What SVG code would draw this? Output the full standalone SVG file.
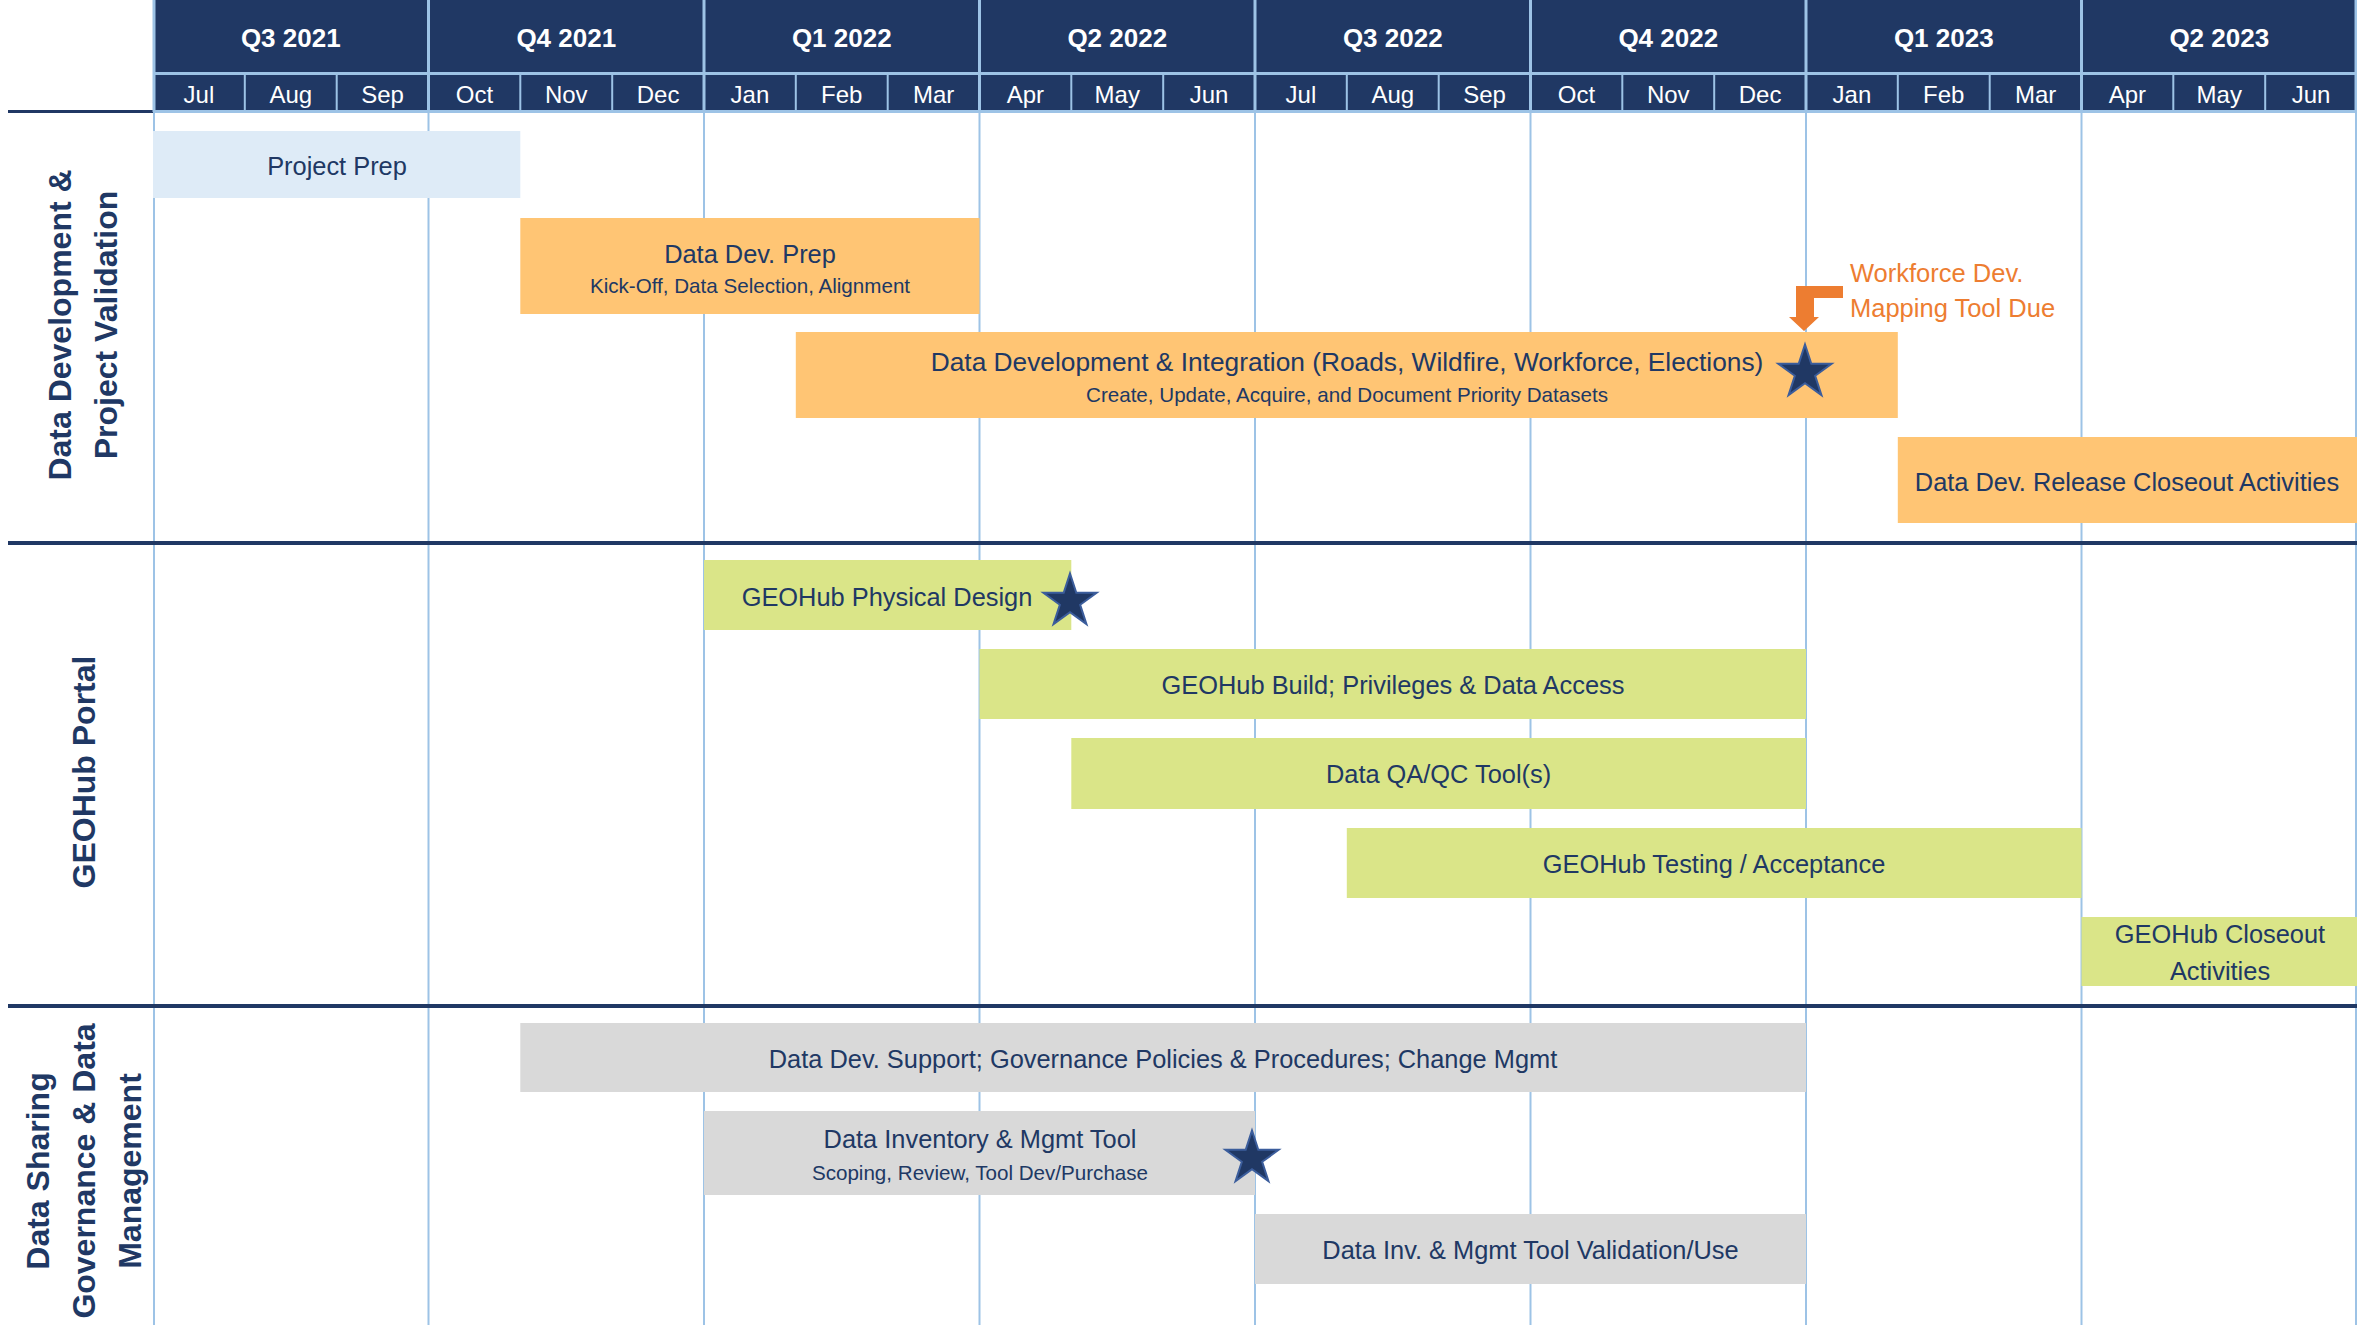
<svg xmlns="http://www.w3.org/2000/svg" xmlns:xlink="http://www.w3.org/1999/xlink" width="2357" height="1325" viewBox="0 0 2357 1325">
<style>
.q{font-family:"Liberation Sans",Arial,sans-serif;font-weight:bold;font-size:26px;fill:#fff;text-anchor:middle}
.m{font-family:"Liberation Sans",Arial,sans-serif;font-size:24px;fill:#fff;text-anchor:middle}
.lbl{font-family:"Liberation Sans",Arial,sans-serif;font-size:25.4px;fill:#203864;text-anchor:middle}
.big{font-size:26.3px}
.sub{font-family:"Liberation Sans",Arial,sans-serif;font-size:20.6px;fill:#203864;text-anchor:middle}
.sec{font-family:"Liberation Sans",Arial,sans-serif;font-weight:bold;font-size:32px;fill:#203864;text-anchor:middle}
.call{font-family:"Liberation Sans",Arial,sans-serif;font-size:25.5px;fill:#ED7D31}
.grid{stroke:#9DC3E6;stroke-width:2;fill:none}
.hsep{stroke:#9DC3E6;stroke-width:3;fill:none}
.msep{stroke:#9DC3E6;stroke-width:2;fill:none}
.secline{stroke:#203864;stroke-width:4;fill:none}
.blue{fill:#DEEBF7}
.orange{fill:#FFC574}
.green{fill:#DAE588}
.gray{fill:#D9D9D9}
.star{fill:#203864;stroke:#3B5D9C;stroke-width:2;stroke-linejoin:miter}
</style>
<defs>
<polygon id="star" points="0,-28 6.29,-8.66 26.63,-8.65 10.18,3.31 16.46,22.65 0,10.7 -16.46,22.65 -10.18,3.31 -26.63,-8.65 -6.29,-8.66"/>
</defs>
<rect x="0" y="0" width="2357" height="1325" fill="#fff"/>

<g id="grid">
<line class="grid" x1="154" y1="112" x2="154" y2="1325"/>
<line class="grid" x1="428.5" y1="112" x2="428.5" y2="1325"/>
<line class="grid" x1="704" y1="112" x2="704" y2="1325"/>
<line class="grid" x1="979.5" y1="112" x2="979.5" y2="1325"/>
<line class="grid" x1="1255" y1="112" x2="1255" y2="1325"/>
<line class="grid" x1="1530.5" y1="112" x2="1530.5" y2="1325"/>
<line class="grid" x1="1806" y1="112" x2="1806" y2="1325"/>
<line class="grid" x1="2081.5" y1="112" x2="2081.5" y2="1325"/>
<line class="grid" x1="2356" y1="112" x2="2356" y2="1325"/>
<line class="secline" x1="8" y1="111.5" x2="153" y2="111.5" style="stroke-width:3"/>
<line class="secline" x1="8" y1="543" x2="2357" y2="543"/>
<line class="secline" x1="8" y1="1006" x2="2357" y2="1006"/>
</g>

<g id="header">
<rect x="153" y="0" width="2204" height="110" fill="#203864"/>
<line class="hsep" x1="153" y1="73.5" x2="2357" y2="73.5"/>
<line class="hsep" x1="153" y1="111.5" x2="2357" y2="111.5"/>
<line class="hsep" x1="154" y1="0" x2="154" y2="112"/>
<line class="hsep" x1="428.5" y1="0" x2="428.5" y2="112"/>
<line class="hsep" x1="704" y1="0" x2="704" y2="112"/>
<line class="hsep" x1="979.5" y1="0" x2="979.5" y2="112"/>
<line class="hsep" x1="1255" y1="0" x2="1255" y2="112"/>
<line class="hsep" x1="1530.5" y1="0" x2="1530.5" y2="112"/>
<line class="hsep" x1="1806" y1="0" x2="1806" y2="112"/>
<line class="hsep" x1="2081.5" y1="0" x2="2081.5" y2="112"/>
<line class="hsep" x1="2356" y1="0" x2="2356" y2="112"/>
<g class="msep">
<line x1="244.8" y1="75" x2="244.8" y2="110"/>
<line x1="336.7" y1="75" x2="336.7" y2="110"/>
<line x1="520.3" y1="75" x2="520.3" y2="110"/>
<line x1="612.2" y1="75" x2="612.2" y2="110"/>
<line x1="795.8" y1="75" x2="795.8" y2="110"/>
<line x1="887.7" y1="75" x2="887.7" y2="110"/>
<line x1="1071.3" y1="75" x2="1071.3" y2="110"/>
<line x1="1163.2" y1="75" x2="1163.2" y2="110"/>
<line x1="1346.8" y1="75" x2="1346.8" y2="110"/>
<line x1="1438.7" y1="75" x2="1438.7" y2="110"/>
<line x1="1622.3" y1="75" x2="1622.3" y2="110"/>
<line x1="1714.2" y1="75" x2="1714.2" y2="110"/>
<line x1="1897.8" y1="75" x2="1897.8" y2="110"/>
<line x1="1989.7" y1="75" x2="1989.7" y2="110"/>
<line x1="2173.3" y1="75" x2="2173.3" y2="110"/>
<line x1="2265.2" y1="75" x2="2265.2" y2="110"/>
</g>
<text class="q" x="290.75" y="47">Q3 2021</text>
<text class="q" x="566.25" y="47">Q4 2021</text>
<text class="q" x="841.75" y="47">Q1 2022</text>
<text class="q" x="1117.25" y="47">Q2 2022</text>
<text class="q" x="1392.75" y="47">Q3 2022</text>
<text class="q" x="1668.25" y="47">Q4 2022</text>
<text class="q" x="1943.75" y="47">Q1 2023</text>
<text class="q" x="2219.25" y="47">Q2 2023</text>
<text class="m" x="198.9" y="103">Jul</text>
<text class="m" x="290.75" y="103">Aug</text>
<text class="m" x="382.6" y="103">Sep</text>
<text class="m" x="474.4" y="103">Oct</text>
<text class="m" x="566.25" y="103">Nov</text>
<text class="m" x="658.1" y="103">Dec</text>
<text class="m" x="749.9" y="103">Jan</text>
<text class="m" x="841.75" y="103">Feb</text>
<text class="m" x="933.6" y="103">Mar</text>
<text class="m" x="1025.4" y="103">Apr</text>
<text class="m" x="1117.25" y="103">May</text>
<text class="m" x="1209.1" y="103">Jun</text>
<text class="m" x="1300.9" y="103">Jul</text>
<text class="m" x="1392.75" y="103">Aug</text>
<text class="m" x="1484.6" y="103">Sep</text>
<text class="m" x="1576.4" y="103">Oct</text>
<text class="m" x="1668.25" y="103">Nov</text>
<text class="m" x="1760.1" y="103">Dec</text>
<text class="m" x="1851.9" y="103">Jan</text>
<text class="m" x="1943.75" y="103">Feb</text>
<text class="m" x="2035.6" y="103">Mar</text>
<text class="m" x="2127.4" y="103">Apr</text>
<text class="m" x="2219.25" y="103">May</text>
<text class="m" x="2311.1" y="103">Jun</text>
</g>

<g id="section-labels">
<g id="sec-data-dev" transform="translate(0,325)">
<text class="sec" transform="translate(70.7,0) rotate(-90)" x="0" y="0">Data Development &amp;</text>
<text class="sec" transform="translate(116.7,0) rotate(-90)" x="0" y="0">Project Validation</text>
</g>
<g id="sec-geohub" transform="translate(0,772)">
<text class="sec" transform="translate(95,0) rotate(-90)" x="0" y="0">GEOHub Portal</text>
</g>
<g id="sec-governance" transform="translate(0,1171)">
<text class="sec" transform="translate(49,0) rotate(-90)" x="0" y="0">Data Sharing</text>
<text class="sec" transform="translate(95,0) rotate(-90)" x="0" y="0">Governance &amp; Data</text>
<text class="sec" transform="translate(141,0) rotate(-90)" x="0" y="0">Management</text>
</g>
</g>

<g id="project-prep">
<rect class="blue" x="153" y="131" width="367.3" height="67"/>
<text class="lbl" x="337" y="175">Project Prep</text>
</g>
<g id="data-dev-prep">
<rect class="orange" x="520.3" y="218" width="459.2" height="96"/>
<text class="lbl" x="750" y="263">Data Dev. Prep</text>
<text class="sub" x="750" y="293">Kick-Off, Data Selection, Alignment</text>
</g>
<g id="data-dev-integration">
<rect class="orange" x="795.8" y="332" width="1102" height="86"/>
<text class="lbl big" x="1347" y="371">Data Development &amp; Integration (Roads, Wildfire, Workforce, Elections)</text>
<text class="sub" x="1347" y="402">Create, Update, Acquire, and Document Priority Datasets</text>
</g>
<g id="data-dev-release-closeout">
<rect class="orange" x="1897.8" y="437" width="459.2" height="86"/>
<text class="lbl" x="2127" y="491">Data Dev. Release Closeout Activities</text>
</g>
<g id="geohub-physical-design">
<rect class="green" x="704" y="560" width="367.3" height="70"/>
<text class="lbl" x="887" y="606">GEOHub Physical Design</text>
</g>
<g id="geohub-build">
<rect class="green" x="979.5" y="649" width="826.5" height="70"/>
<text class="lbl" x="1393" y="694">GEOHub Build; Privileges &amp; Data Access</text>
</g>
<g id="data-qa-qc">
<rect class="green" x="1071.3" y="738" width="734.7" height="71"/>
<text class="lbl" x="1438.6" y="783">Data QA/QC Tool(s)</text>
</g>
<g id="geohub-testing">
<rect class="green" x="1346.8" y="828" width="734.7" height="70"/>
<text class="lbl" x="1714" y="873">GEOHub Testing / Acceptance</text>
</g>
<g id="geohub-closeout">
<rect class="green" x="2081.5" y="917" width="275.5" height="69"/>
<text class="lbl" x="2220" y="943">GEOHub Closeout</text>
<text class="lbl" x="2220" y="980">Activities</text>
</g>
<g id="data-dev-support">
<rect class="gray" x="520.3" y="1023" width="1285.7" height="69"/>
<text class="lbl" x="1163" y="1068">Data Dev. Support; Governance Policies &amp; Procedures; Change Mgmt</text>
</g>
<g id="data-inventory">
<rect class="gray" x="704" y="1111" width="551" height="84"/>
<text class="lbl" x="980" y="1148">Data Inventory &amp; Mgmt Tool</text>
<text class="sub" x="980" y="1180">Scoping, Review, Tool Dev/Purchase</text>
</g>
<g id="data-inv-validation">
<rect class="gray" x="1255" y="1214" width="551" height="70"/>
<text class="lbl" x="1530.5" y="1259">Data Inv. &amp; Mgmt Tool Validation/Use</text>
</g>

<g id="milestones">
<use xlink:href="#star" href="#star" class="star" x="1805" y="372.5"/>
<use xlink:href="#star" href="#star" class="star" x="1070" y="601.5"/>
<use xlink:href="#star" href="#star" class="star" x="1252" y="1158.5"/>
</g>

<g id="callout-workforce">
<text class="call" x="1850" y="282">Workforce Dev.</text>
<text class="call" x="1850" y="317">Mapping Tool Due</text>
</g>

<g id="connectors">
<polygon fill="#ED7D31" points="1796,286 1843,286 1843,298 1814,298 1814,317 1819,317 1804,331 1789,317 1796,317"/>
</g>
</svg>
